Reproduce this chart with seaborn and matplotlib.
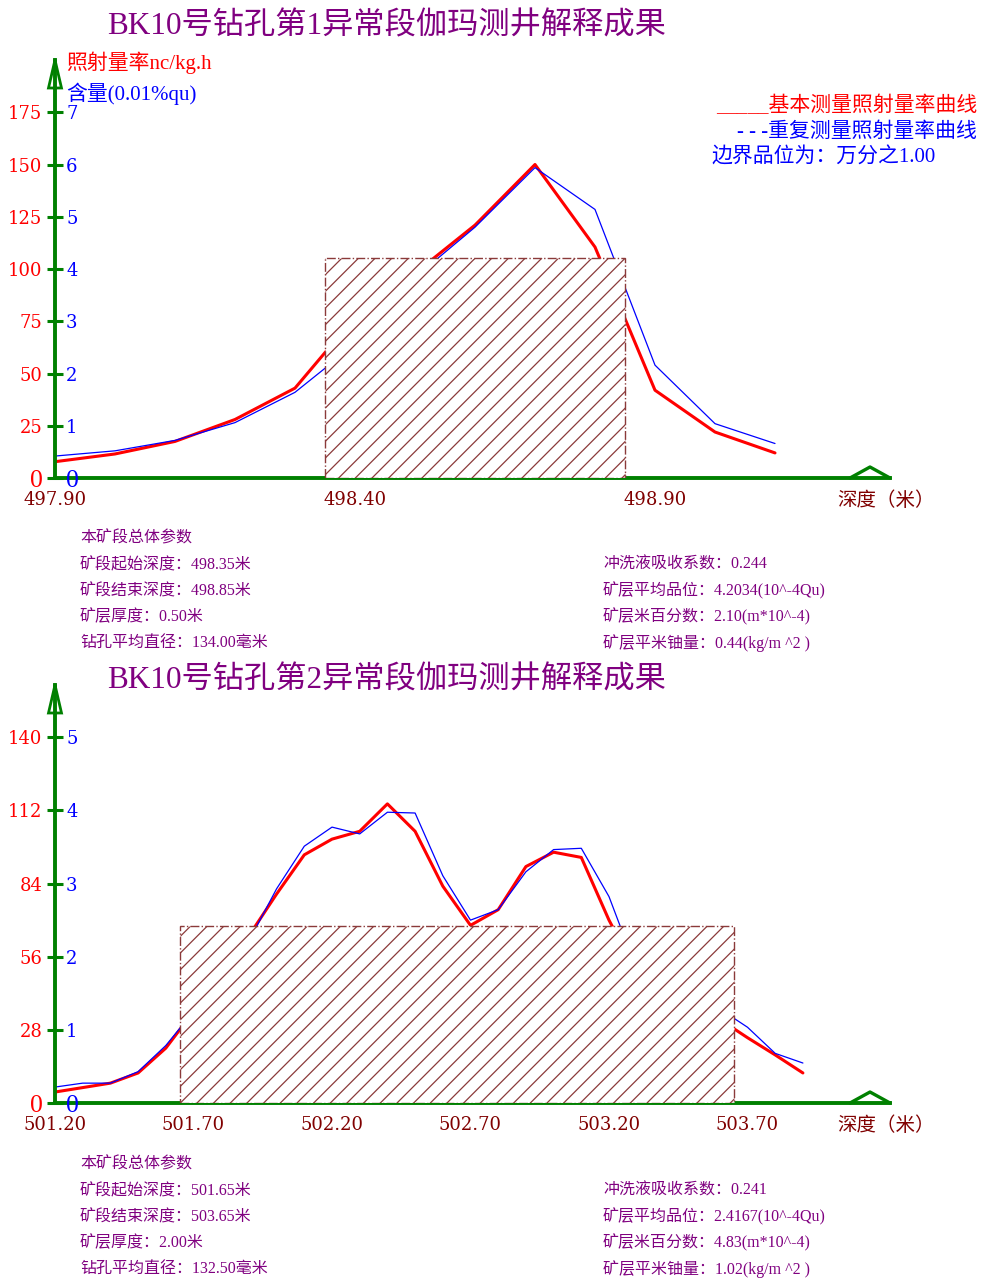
import numpy as np
import matplotlib
matplotlib.use("Agg")
import matplotlib.pyplot as plt
import seaborn as sns

# ---- section 1 gamma log ----
depth_1 = [497.9, 498.0, 498.1, 498.2, 498.3, 498.4, 498.5, 498.6, 498.7, 498.8, 498.9, 499.0, 499.1]
rate_main_1 = [7.8, 11.5, 17.5, 28.0, 43.0, 77.0, 98.0, 121.0, 150.0, 110.5, 42.0, 22.0, 12.0]
rate_repeat_1 = [10.5, 13.0, 18.0, 26.5, 41.0, 64.0, 96.0, 120.0, 148.5, 128.5, 54.0, 26.0, 16.5]
ore_start_1, ore_end_1 = 498.35, 498.85
grade_1 = 4.2034
rate_ticks_1 = [0, 25, 50, 75, 100, 125, 150, 175]
content_ticks_1 = [0, 1, 2, 3, 4, 5, 6, 7]
depth_labels_1 = [497.9, 498.4, 498.9]

# ---- section 2 gamma log ----
depth_2 = [501.2, 501.3, 501.4, 501.5, 501.6, 501.7, 501.8, 501.9, 502.0, 502.1,
           502.2, 502.3, 502.4, 502.5, 502.6, 502.7, 502.8, 502.9, 503.0, 503.1,
           503.2, 503.3, 503.4, 503.5, 503.6, 503.7, 503.8, 503.9]
rate_main_2 = [4.2, 5.9, 7.6, 11.5, 21.0, 35.0, 50.0, 64.0, 80.0, 95.0,
               101.0, 104.0, 114.5, 104.0, 83.0, 68.0, 74.0, 90.5, 96.0, 94.0,
               70.0, 50.0, 41.0, 36.0, 32.0, 25.0, 18.4, 11.5]
rate_repeat_2 = [6.1, 7.6, 7.6, 12.0, 22.0, 35.0, 50.0, 62.0, 82.0, 98.3,
                 105.6, 103.0, 111.3, 111.0, 87.0, 70.0, 74.0, 88.5, 97.0, 97.5,
                 79.0, 51.0, 42.0, 38.0, 36.0, 29.0, 19.0, 15.3]
ore_start_2, ore_end_2 = 501.65, 503.65
grade_2 = 2.4167
rate_ticks_2 = [0, 28, 56, 84, 112, 140]
content_ticks_2 = [0, 1, 2, 3, 4, 5]
depth_labels_2 = [501.2, 501.7, 502.2, 502.7, 503.2, 503.7]

title_1 = "BK10号钻孔第1异常段伽玛测井解释成果"
title_2 = "BK10号钻孔第2异常段伽玛测井解释成果"
params_left_1 = ["本矿段总体参数", "矿段起始深度：498.35米", "矿段结束深度：498.85米",
                 "矿层厚度：0.50米", "钻孔平均直径：134.00毫米"]
params_right_1 = ["冲洗液吸收系数：0.244", "矿层平均品位：4.2034(10^-4Qu)",
                  "矿层米百分数：2.10(m*10^-4)", "矿层平米铀量：0.44(kg/m ^2 )"]
params_left_2 = ["本矿段总体参数", "矿段起始深度：501.65米", "矿段结束深度：503.65米",
                 "矿层厚度：2.00米", "钻孔平均直径：132.50毫米"]
params_right_2 = ["冲洗液吸收系数：0.241", "矿层平均品位：2.4167(10^-4Qu)",
                  "矿层米百分数：4.83(m*10^-4)", "矿层平米铀量：1.02(kg/m ^2 )"]
legend_lines = ["_____基本测量照射量率曲线", "- - -重复测量照射量率曲线", "边界品位为：万分之1.00"]

sns.set_style("white")
plt.rcParams["font.family"] = ["Liberation Serif", "Noto Sans CJK SC"]
plt.rcParams["hatch.linewidth"] = 0.9

W, H = 981, 1278
fig = plt.figure(figsize=(W / 100, H / 100), dpi=100)

GREEN = "#008000"
MAROON = "#800000"
PURPLE = "#800080"
HATCH = "#8B3A3A"
NUM_FONT = "DejaVu Serif"


def put(x, y, s, **kw):
    fig.text(x / W, 1 - y / H, s, **kw)


def enlarge_zero(axis):
    zero = axis.get_yticklabels()[0]
    zero.set_fontfamily("Liberation Serif")
    zero.set_fontsize(18.5)


def panel(top_px, base_px, depth, main, repeat, x0, px_per_m, ymax, per_unit,
          ore_start, ore_end, grade, rate_ticks, content_ticks, depth_labels, minor_end):
    ax = fig.add_axes([55 / W, 1 - base_px / H, 835 / W, (base_px - top_px) / H])
    ax.set_xlim(x0, x0 + 835 / px_per_m)
    ax.set_ylim(0, ymax)

    sns.lineplot(x=depth, y=repeat, ax=ax, color="#0000FF", linewidth=0.9, zorder=2.2)
    sns.lineplot(x=depth, y=main, ax=ax, color="#FF0000", linewidth=2.2, zorder=2.1)

    # ore interval: width = thickness, height = average grade on the content scale
    ax.bar([ore_start], [grade * per_unit], width=ore_end - ore_start, align="edge",
           facecolor="white", edgecolor=HATCH, hatch="//", linewidth=1.0,
           linestyle="-.", zorder=3)

    for side in ("top", "right"):
        ax.spines[side].set_visible(False)
    for side in ("left", "bottom"):
        ax.spines[side].set_color(GREEN)
        ax.spines[side].set_linewidth(2.8)

    ax.set_xlabel("")
    ax.set_ylabel("")
    ax.set_xticks(depth_labels, labels=[f"{d:.2f}" for d in depth_labels],
                  fontfamily=NUM_FONT, fontsize=13, color=MAROON)
    ax.set_xticks(np.round(np.arange(x0, minor_end + 0.01, 0.1), 1), minor=True)
    ax.tick_params(axis="x", which="both", direction="in", length=5.5, width=2.2,
                   color=GREEN, pad=9)
    ax.set_yticks(rate_ticks, labels=[str(v) for v in rate_ticks],
                  fontfamily=NUM_FONT, fontsize=13, color="#FF0000")
    enlarge_zero(ax)
    ax.tick_params(axis="y", direction="inout", length=11, width=2.2, color=GREEN, pad=3.5)

    # content scale printed on the right side of the same axis line
    ax2 = ax.twinx()
    ax2.set_ylim(0, ymax / per_unit)
    ax2.spines["right"].set_position(("axes", 0))
    for s in ax2.spines.values():
        s.set_visible(False)
    ax2.set_yticks(content_ticks, labels=[str(v) for v in content_ticks],
                   fontfamily=NUM_FONT, fontsize=13, color="#0000FF")
    enlarge_zero(ax2)
    ax2.tick_params(axis="y", length=0, pad=8)

    # arrow head on the vertical axis
    hw, hh = 6.5 / 835, 28 / (base_px - top_px)
    ax.plot([0, -hw, hw, 0], [1, 1 - hh, 1 - hh, 1], transform=ax.transAxes,
            color=GREEN, lw=2.0, clip_on=False, zorder=5, solid_joinstyle="miter")
    # triangle marker at the end of the depth axis
    ax.plot([795 / 835, 815 / 835, 1.0], [0, 11 / (base_px - top_px), 0],
            transform=ax.transAxes, color=GREEN, lw=2.4, clip_on=False, zorder=5)
    return ax


panel(60, 478, depth_1, rate_main_1, rate_repeat_1, 497.9, 600.0, 200, 25,
      ore_start_1, ore_end_1, grade_1, rate_ticks_1, content_ticks_1, depth_labels_1, 499.1)
panel(685, 1103, depth_2, rate_main_2, rate_repeat_2, 501.2, 277.0, 160, 28,
      ore_start_2, ore_end_2, grade_2, rate_ticks_2, content_ticks_2, depth_labels_2, 503.9)

# titles
put(107, 27, title_1, fontsize=22.5, color=PURPLE, va="center", ha="left")
put(107, 681, title_2, fontsize=22.5, color=PURPLE, va="center", ha="left")

# axis captions
put(66, 63, "照射量率nc/kg.h", fontsize=15, color="#FF0000", va="center")
put(66, 94, "含量(0.01%qu)", fontsize=15, color="#0000FF", va="center")
put(886, 501, "深度（米）", fontsize=14, color=MAROON, va="center", ha="center")
put(886, 1126, "深度（米）", fontsize=14, color=MAROON, va="center", ha="center")

# legend text
put(977, 106, legend_lines[0], fontsize=15, color="#FF0000", va="center", ha="right")
put(977, 132, legend_lines[1], fontsize=15, color="#0000FF", va="center", ha="right")
put(711, 158, legend_lines[2], fontsize=15, color="#0000FF", va="center", ha="left")

# summary parameters
for base, left, right in ((539, params_left_1, params_right_1),
                          (1165, params_left_2, params_right_2)):
    for i, s in enumerate(left):
        put(80, base + 26 * i, s, fontsize=11.5, color=PURPLE, va="center")
    for i, s in enumerate(right):
        put(603, base + 26 * (i + 1), s, fontsize=11.5, color=PURPLE, va="center")

fig.savefig("out.png", dpi=100, facecolor="white")
